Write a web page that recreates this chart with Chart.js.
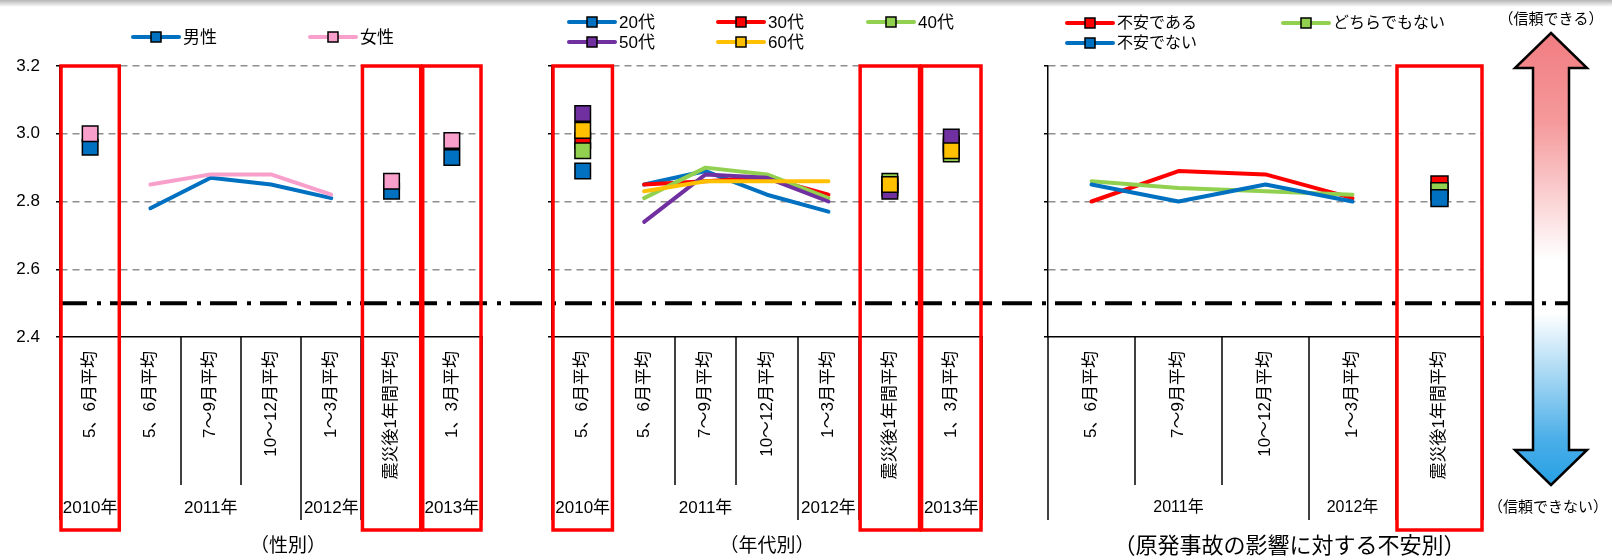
<!DOCTYPE html>
<html>
<head>
<meta charset="utf-8">
<script src="https://cdn.jsdelivr.net/npm/chart.js@4.4.0/dist/chart.umd.min.js"></script>
<style>
  body { margin: 0; background: #fff; width: 1612px; height: 558px; overflow: hidden; position: relative; }
  .panel { position: absolute; top: 0; height: 558px; }
  #shadow { position: absolute; left: 0; top: 0; width: 1612px; height: 7px; background: linear-gradient(#b5b5b5, rgba(255,255,255,0)); z-index: 5; }
</style>
</head>
<body>
<div id="shadow"></div>
<div class="panel" style="left:0;width:515px"><canvas id="sexChart"></canvas></div>
<div class="panel" style="left:515px;width:490px"><canvas id="ageChart"></canvas></div>
<div class="panel" style="left:1005px;width:607px"><canvas id="anxietyChart"></canvas></div>
<script>
// --- categories & tick labels ---
const periodCats = ['5、6月平均', '5、6月平均', '7～9月平均', '10～12月平均', '1～3月平均', '震災後1年間平均', '1、3月平均'];
const periodYears = ['2010年', '2011年', '2012年', '2013年'];
const periodYearSpans = [[0, 0], [1, 3], [4, 4], [6, 6]];
const periodBoxes = [0, 5, 6];

const anxietyCats = ['5、6月平均', '7～9月平均', '10～12月平均', '1～3月平均', '震災後1年間平均'];
const anxietyYears = ['2011年', '2012年'];
const anxietyYearSpans = [[0, 2], [3, 3]];
const anxietyBoxes = [4];

const yTicks = [2.4, 2.6, 2.8, 3.0, 3.2];
const baseline = 2.5;

// --- series values ---
const male   = [2.96, 2.78, 2.87, 2.85, 2.81, 2.83, 2.93];
const female = [3.00, 2.85, 2.88, 2.88, 2.82, 2.86, 2.98];

const age20 = [2.89, 2.85, 2.89, 2.82, 2.77, 2.84, 2.96];
const age30 = [2.98, 2.85, 2.86, 2.87, 2.82, 2.85, 2.97];
const age40 = [2.95, 2.81, 2.90, 2.88, 2.81, 2.86, 2.94];
const age50 = [3.06, 2.74, 2.88, 2.87, 2.80, 2.83, 2.99];
const age60 = [3.01, 2.83, 2.86, 2.86, 2.86, 2.85, 2.95];

const anxious    = [2.80, 2.89, 2.88, 2.81, 2.85];
const neutral    = [2.86, 2.84, 2.83, 2.82, 2.83];
const notAnxious = [2.85, 2.80, 2.85, 2.80, 2.81];

const FONT = '"Liberation Sans", "Noto Sans CJK JP", sans-serif';
const C = { blue: '#0070c0', pink: '#f99fcb', red: '#ff0000', green: '#92d050', purple: '#7030a0', yellow: '#ffc000' };
const CLEAR = 'rgba(0,0,0,0)';

function boundaryPx(xs, i) {
  const step = xs.getPixelForValue(1) - xs.getPixelForValue(0);
  return xs.getPixelForValue(0) + (i - 0.5) * step;
}

// --- decorations: separators, year labels, boxes, baseline, legend ---
const panelDecor = {
  id: 'panelDecor',
  afterDraw(chart, args, o) {
    const { ctx, chartArea: a, scales: { x: xs, y: ys } } = chart;
    const n = chart.data.labels.length;
    ctx.save();

    // category separators under the axis
    const yearOf = new Array(n).fill(-1);
    o.yearSpans.forEach((s, k) => { for (let i = s[0]; i <= s[1]; i++) yearOf[i] = k; });
    ctx.strokeStyle = '#000';
    ctx.lineWidth = 1.5;
    for (let i = 0; i <= n; i++) {
      const inner = i > 0 && i < n && yearOf[i - 1] >= 0 && yearOf[i - 1] === yearOf[i];
      const x = Math.round(boundaryPx(xs, i));
      ctx.beginPath();
      ctx.moveTo(x, a.bottom);
      ctx.lineTo(x, inner ? 485 : 520);
      ctx.stroke();
    }

    // year labels
    ctx.fillStyle = '#000';
    ctx.font = o.yearFont + 'px ' + FONT;
    ctx.textAlign = 'center';
    ctx.textBaseline = 'middle';
    o.years.forEach((t, k) => {
      const [s, e] = o.yearSpans[k];
      ctx.fillText(t, (xs.getPixelForValue(s) + xs.getPixelForValue(e)) / 2, 508);
    });

    // panel title
    ctx.font = o.titleFont + 'px ' + FONT;
    ctx.fillText(o.title, (a.left + a.right) / 2 + o.titleDx, 547);

    // trust arrow (right panel only)
    if (o.arrow) drawArrow(ctx, o.arrow);

    // 2.5 reference line
    const yb = ys.getPixelForValue(baseline);
    ctx.setLineDash([27, 10, 4, 9]);
    ctx.lineWidth = 4;
    ctx.strokeStyle = '#000';
    ctx.beginPath();
    ctx.moveTo(o.lineFrom != null ? o.lineFrom : a.left, yb);
    ctx.lineTo(o.lineTo != null ? o.lineTo : chart.width, yb);
    ctx.stroke();
    ctx.setLineDash([]);

    // red highlight boxes
    ctx.strokeStyle = '#ff0000';
    ctx.lineWidth = 3.5;
    o.boxes.forEach(i => {
      const x0 = boundaryPx(xs, i) + 1, x1 = boundaryPx(xs, i + 1) - 1;
      const y0 = ys.getPixelForValue(yTicks[yTicks.length - 1]);
      ctx.strokeRect(x0, y0, x1 - x0, 530 - y0);
    });

    // legend
    ctx.textAlign = 'left';
    ctx.font = o.legendFont + 'px ' + FONT;
    o.legend.forEach((pos, k) => {
      const ds = chart.data.datasets[k];
      const [lx, ly] = pos;
      ctx.strokeStyle = ds.borderColor;
      ctx.lineWidth = 4;
      ctx.lineCap = 'round';
      ctx.beginPath();
      ctx.moveTo(lx, ly);
      ctx.lineTo(lx + 46, ly);
      ctx.stroke();
      ctx.fillStyle = ds.borderColor;
      ctx.fillRect(lx + 18, ly - 5, 10, 10);
      ctx.lineWidth = 1.5;
      ctx.strokeStyle = '#000';
      ctx.strokeRect(lx + 18, ly - 5, 10, 10);
      ctx.fillStyle = '#000';
      ctx.fillText(ds.label, lx + 50, ly + 1);
    });
    ctx.restore();
  }
};

function drawArrow(ctx, ar) {
  const { cx, half, shaft, top, headTop, headBot, bottom } = ar;
  const g = ctx.createLinearGradient(0, top, 0, bottom);
  g.addColorStop(0, '#f07c80');
  g.addColorStop(0.2, '#f59a9c');
  g.addColorStop(0.5, '#ffffff');
  g.addColorStop(0.62, '#ffffff');
  g.addColorStop(0.9, '#4aaee8');
  g.addColorStop(1, '#26a0e4');
  ctx.beginPath();
  ctx.moveTo(cx, top);
  ctx.lineTo(cx + half, headTop);
  ctx.lineTo(cx + shaft, headTop);
  ctx.lineTo(cx + shaft, headBot);
  ctx.lineTo(cx + half, headBot);
  ctx.lineTo(cx, bottom);
  ctx.lineTo(cx - half, headBot);
  ctx.lineTo(cx - shaft, headBot);
  ctx.lineTo(cx - shaft, headTop);
  ctx.lineTo(cx - half, headTop);
  ctx.closePath();
  ctx.fillStyle = g;
  ctx.fill();
  ctx.lineWidth = 2.5;
  ctx.lineJoin = 'miter';
  ctx.strokeStyle = '#000';
  ctx.stroke();
  ctx.fillStyle = '#000';
  ctx.font = '15px ' + FONT;
  ctx.textAlign = 'center';
  ctx.textBaseline = 'middle';
  ctx.fillText('（信頼できる）', cx, 20);
  ctx.fillText('（信頼できない）', cx - 3, 508);
}

function makeChart(id, cfg) {
  const n = cfg.series.length;
  const datasets = cfg.series.map((s, k) => ({
    label: s.name,
    data: s.values,
    order: n - k, // later series sit on top, as in the original
    borderColor: s.color,
    backgroundColor: s.color,
    borderWidth: 4,
    borderCapStyle: 'round',
    borderJoinStyle: 'round',
    tension: 0,
    pointStyle: 'rect',
    pointRadius: c => cfg.boxes.includes(c.dataIndex) ? cfg.markR : 0,
    pointHoverRadius: c => cfg.boxes.includes(c.dataIndex) ? cfg.markR : 0,
    pointBackgroundColor: s.color,
    pointBorderColor: '#000',
    pointBorderWidth: 1.5,
    segment: {
      borderColor: c => (cfg.boxes.includes(c.p0DataIndex) || cfg.boxes.includes(c.p1DataIndex)) ? CLEAR : s.color
    }
  }));
  return new Chart(document.getElementById(id), {
    type: 'line',
    data: { labels: cfg.labels, datasets },
    plugins: [panelDecor],
    options: {
      responsive: true,
      maintainAspectRatio: false,
      animation: false,
      events: [],
      layout: { padding: { top: 66, right: cfg.padRight, left: 0, bottom: 0 } },
      plugins: {
        legend: { display: false },
        tooltip: { enabled: false },
        panelDecor: cfg.decor
      },
      scales: {
        x: {
          type: 'category',
          offset: true,
          grid: { display: false, drawTicks: false },
          border: { color: '#000', width: 1.5 },
          ticks: {
            minRotation: 90, maxRotation: 90, autoSkip: false, padding: 14,
            color: '#000', font: { family: FONT, size: 17 }
          },
          afterFit: s => { s.height = 221; }
        },
        y: {
          min: yTicks[0],
          max: yTicks[yTicks.length - 1],
          afterBuildTicks: s => { s.ticks = yTicks.map(v => ({ value: v })); },
          grid: {
            color: c => c.tick && c.tick.value === yTicks[0] ? CLEAR : '#8f8f8f',
            lineWidth: 1.5,
            tickColor: '#000',
            tickLength: 4,
            tickWidth: 1.5
          },
          border: { color: '#000', width: 1.5, dash: [7, 5] },
          ticks: {
            display: cfg.showY,
            padding: 16,
            color: '#000',
            font: { family: FONT, size: 17 },
            callback: v => Number(v).toFixed(1)
          },
          afterFit: s => { s.width = cfg.yWidth; }
        }
      }
    }
  });
}

makeChart('sexChart', {
  labels: periodCats,
  boxes: periodBoxes,
  yWidth: 60, padRight: 33, showY: true, markR: 11,
  series: [
    { name: '男性', values: male, color: C.blue },
    { name: '女性', values: female, color: C.pink }
  ],
  decor: {
    years: periodYears, yearSpans: periodYearSpans, boxes: periodBoxes, yearFont: 17,
    title: '（性別）', titleDx: 17, titleFont: 19, legendFont: 17,
    legend: [[133, 37], [310, 37]]
  }
});

makeChart('ageChart', {
  labels: periodCats,
  boxes: periodBoxes,
  yWidth: 37, padRight: 23, showY: false, markR: 11,
  series: [
    { name: '20代', values: age20, color: C.blue },
    { name: '30代', values: age30, color: C.red },
    { name: '40代', values: age40, color: C.green },
    { name: '50代', values: age50, color: C.purple },
    { name: '60代', values: age60, color: C.yellow }
  ],
  decor: {
    years: periodYears, yearSpans: periodYearSpans, boxes: periodBoxes, yearFont: 17,
    title: '（年代別）', titleDx: 0, titleFont: 19, legendFont: 17, lineFrom: 0,
    legend: [[54, 22], [203, 22], [353, 22], [54, 42], [203, 42]]
  }
});

makeChart('anxietyChart', {
  labels: anxietyCats,
  boxes: anxietyBoxes,
  yWidth: 43, padRight: 129, showY: false, markR: 12,
  series: [
    { name: '不安である', values: anxious, color: C.red },
    { name: 'どちらでもない', values: neutral, color: C.green },
    { name: '不安でない', values: notAnxious, color: C.blue }
  ],
  decor: {
    years: anxietyYears, yearSpans: anxietyYearSpans, boxes: anxietyBoxes, yearFont: 16,
    title: '（原発事故の影響に対する不安別）', titleDx: 24, titleFont: 22, legendFont: 16,
    lineFrom: 0, lineTo: 564,
    legend: [[62, 23], [278, 23], [62, 43]],
    arrow: { cx: 546, half: 36, shaft: 18, top: 33, headTop: 68, headBot: 450, bottom: 485 }
  }
});
</script>
</body>
</html>
